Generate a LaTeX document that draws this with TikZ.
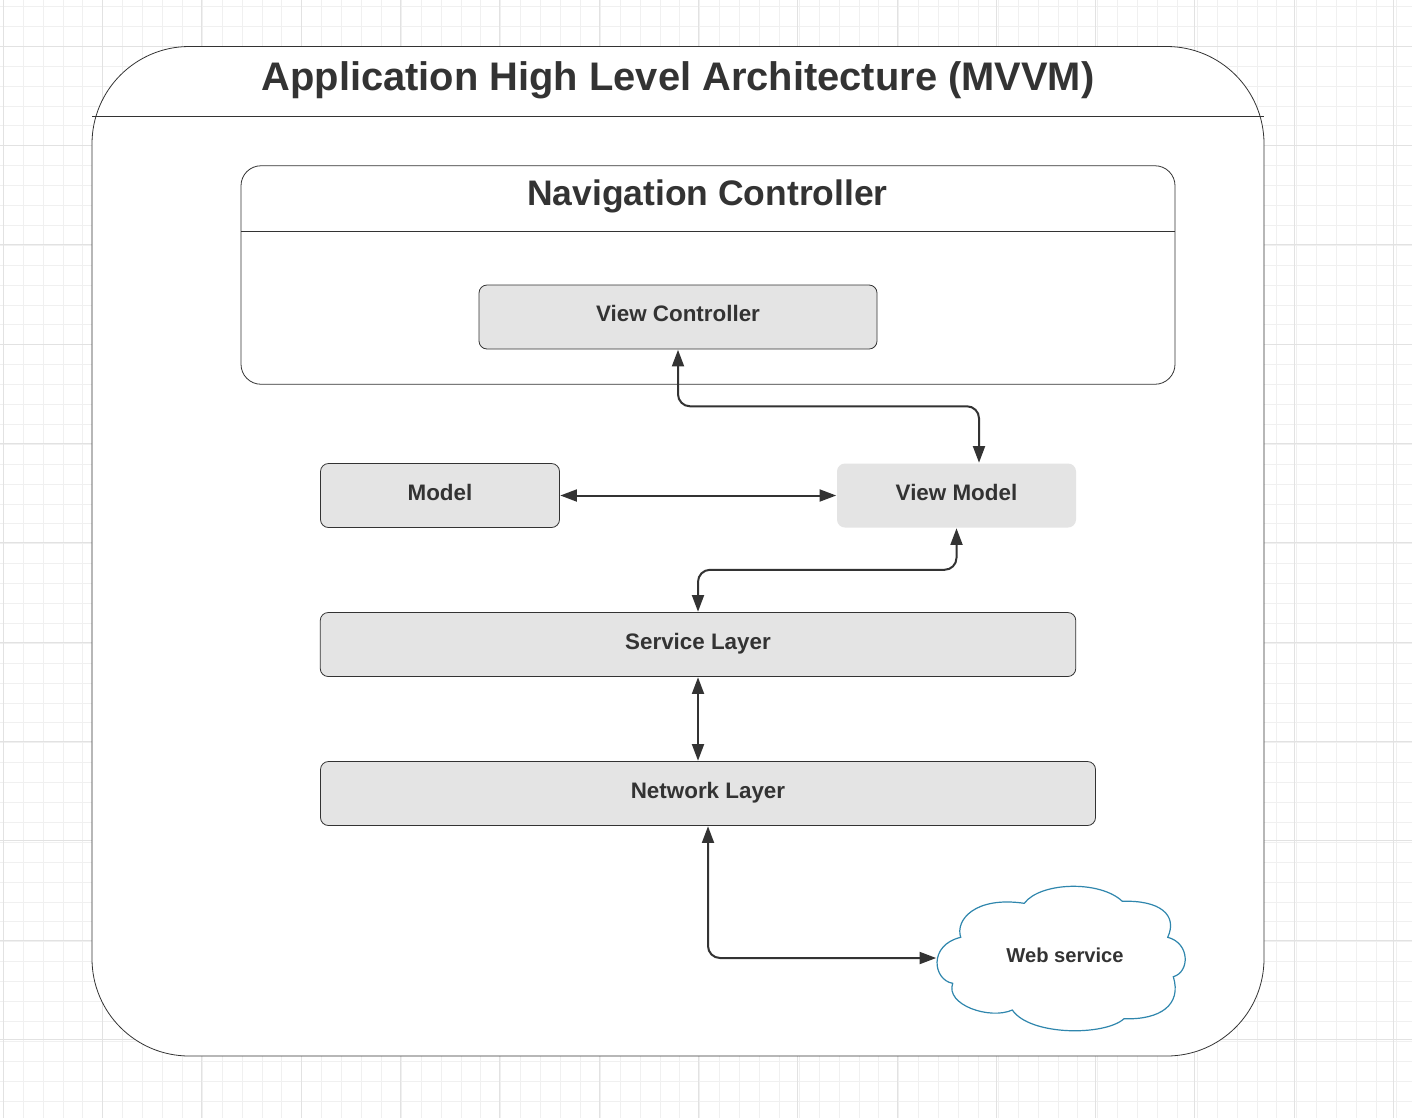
\documentclass[tikz,border=0pt]{standalone}
\usepackage{fontspec}
\setmainfont{Liberation Sans}
\usetikzlibrary{positioning,calc,arrows.meta}
\definecolor{boxbg}{HTML}{e4e4e4}
\definecolor{inkline}{HTML}{333333}
\definecolor{cloudline}{HTML}{2f86ad}
\definecolor{gridminor}{HTML}{f0f0f0}
\definecolor{gridmajor}{HTML}{e2e2e2}
\def\px{0.75pt}
\tikzset{
  frame/.style={draw=inkline, line width=0.6pt, fill=white, outer sep=0pt, inner sep=0pt},
  layer/.style={frame, fill=boxbg, rounded corners=6pt, font=\bfseries\fontsize{16.8}{20}\selectfont,
    text=inkline, text height=12pt, text depth=5pt, outer sep=0.6pt},
  link/.style={draw=inkline, line width=1.5pt, rounded corners=9pt,
    {Triangle[length=12.5pt,width=9pt]}-{Triangle[length=12.5pt,width=9pt]}},
}

\begin{document}
\begin{tikzpicture}[x=\px, y=-\px]
  \useasboundingbox (0,0) rectangle (1412,1118);

  % Background grid
  \foreach \xpos in {3.3,23.2,...,1412} {
    \draw[gridminor, line width=0.75pt] (\xpos,0) -- (\xpos,1118);
  }
  \foreach \ypos in {6.5,26.4,...,1118} {
    \draw[gridminor, line width=0.75pt] (0,\ypos) -- (1412,\ypos);
  }
  \foreach \xpos in {3.3,102.6,...,1412} {
    \draw[gridmajor, line width=0.75pt] (\xpos,0) -- (\xpos,1118);
  }
  \foreach \ypos in {46.3,145.6,...,1118} {
    \draw[gridmajor, line width=0.75pt] (0,\ypos) -- (1412,\ypos);
  }

  % Application frame
  \node[frame, rounded corners=73pt, minimum width=1172*\px, minimum height=1009.5*\px] (appframe) at (678,551.25) {};
  \draw[inkline, line width=0.6pt] ($(appframe.north west)+(0,69.5)$) -- ($(appframe.north east)+(0,69.5)$);
  \node[text=inkline, font=\bfseries\fontsize{29.9}{36}\selectfont] (apptitle) at (678,80) {Application High Level Architecture (MVVM)};

  % Navigation controller
  \node[frame, rounded corners=15pt, minimum width=934*\px, minimum height=218.5*\px] (navframe) at (708,275) {};
  \draw[inkline, line width=0.6pt] ($(navframe.north west)+(0,66)$) -- ($(navframe.north east)+(0,66)$);
  \node[text=inkline, font=\bfseries\fontsize{26.6}{32}\selectfont] (navtitle) at (707.5,196) {Navigation Controller};

  % Layers
  \node[layer, minimum width=398*\px, minimum height=64*\px] (viewcontroller) at (678,317) {View Controller};
  \node[layer, minimum width=239*\px, minimum height=64*\px] (model) at (440,495.5) {Model};
  \node[layer, draw=none, minimum width=239*\px, minimum height=64*\px] (viewmodel) at (956.5,495.5) {View Model};
  \node[layer, minimum width=755.5*\px, minimum height=64*\px] (servicelayer) at (698,644.5) {Service Layer};
  \node[layer, minimum width=775*\px, minimum height=64*\px] (networklayer) at (708,793.5) {Network Layer};

  % Web service cloud
  \draw[cloudline, line width=0.9pt, fill=white]
    (960.7,937.3) .. controls (955,920) and (975,896) .. (1024.3,903.3)
    .. controls (1040,882) and (1100,880) .. (1122.3,901.3)
    .. controls (1160,900) and (1178,915) .. (1167.7,937.3)
    .. controls (1190,943) and (1190,972) .. (1173.3,976.7)
    .. controls (1182,1005) and (1160,1020) .. (1124,1018.7)
    .. controls (1105,1036) and (1030,1036) .. (1012.3,1010)
    .. controls (990,1020) and (945,1005) .. (952.7,983.3)
    .. controls (933,980) and (928,945) .. (960.7,937.3) -- cycle;
  \node[text=inkline, font=\bfseries\fontsize{15.1}{18}\selectfont, text height=11pt, text depth=4pt,
    minimum width=256*\px, minimum height=145*\px, outer sep=0.6pt, inner sep=0pt] (webservice) at (1065,958) {Web service};

  % Connectors
  \draw[link] (viewcontroller.south) -- ++(0,56.5) -| ($(viewmodel.north)+(22.5,0)$);
  \draw[link] (model.east) -- (viewmodel.west);
  \draw[link] (viewmodel.south) -- ++(0,41.5) -| (servicelayer.north);
  \draw[link] (servicelayer.south) -- (servicelayer.south |- networklayer.north);
  \draw[link] (networklayer.south) |- (webservice.west);
\end{tikzpicture}
\end{document}
